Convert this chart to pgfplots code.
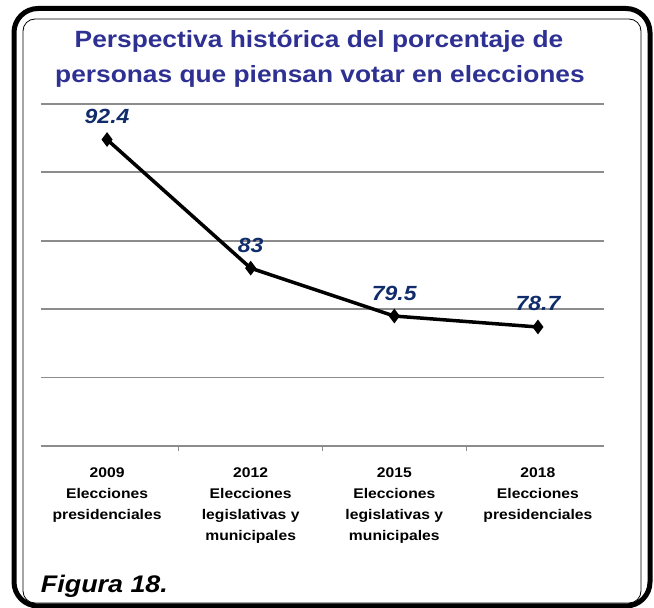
\documentclass[border=0pt]{standalone}
\usepackage{fontspec}
\setmainfont{Liberation Sans}
\usepackage{pgfplots}
\pgfplotsset{compat=1.18}
\definecolor{titleblue}{RGB}{46,49,146}
\definecolor{labelblue}{RGB}{16,44,106}
\definecolor{gridgray}{RGB}{140,140,140}
\begin{document}
\begin{tikzpicture}
\useasboundingbox (0pt,0pt) rectangle (654pt,608pt);
% frame
\draw[line width=5pt, rounded corners=24pt] (14pt,2pt) rectangle (650pt,599.5pt);
\draw[line width=0.8pt, rounded corners=12pt] (23pt,5pt) rectangle (641pt,589pt);
% title, slightly stretched like the reference
\node[anchor=base, xscale=1.12, text=titleblue, font=\bfseries\fontsize{23.5}{28}\selectfont] at (319pt,560pt)
  {Perspectiva histórica del porcentaje de};
\node[anchor=base, xscale=1.12, text=titleblue, font=\bfseries\fontsize{23.5}{28}\selectfont] at (320pt,525pt)
  {personas que piensan votar en elecciones};
\node[anchor=base west, xscale=1.12, font=\bfseries\itshape\fontsize{24}{28}\selectfont] at (37pt,15pt) {Figura 18.};
\begin{axis}[
  at={(41pt,162pt)}, anchor=south west,
  scale only axis, width=563pt, height=342pt,
  xmin=-0.46, xmax=3.46, ymin=70, ymax=95,
  ytick={70,75,...,95}, yticklabels={},
  ymajorgrids, grid style={gridgray, line width=1.8pt},
  axis x line*=bottom, axis y line*=left,
  y axis line style={draw=none}, major y tick style={draw=none},
  x axis line style={gridgray, line width=1.8pt, -},
  xtick={0,1,2,3},
  xticklabels={{2009\\Elecciones\\presidenciales},{2012\\Elecciones\\legislativas y\\municipales},{2015\\Elecciones\\legislativas y\\municipales},{2018\\Elecciones\\presidenciales}},
  major x tick style={draw=none},
  minor xtick={0.5,1.5,2.5}, minor tick length=5pt,
  minor x tick style={gridgray, line width=1.2pt},
  xtick align=outside,
  xticklabel style={align=center, anchor=north, yshift=-14pt, xscale=1.12,
    font=\bfseries\fontsize{14}{21}\selectfont},
  clip=false,
  /pgf/number format/assume math mode=true,
  nodes near coords,
  every node near coord/.append style={anchor=base, yshift=16pt, xscale=1.12, text=labelblue,
    font=\bfseries\itshape\fontsize{20.5}{24}\selectfont},
]
\addplot[black, line width=3.5pt, mark=diamond*, mark size=4.5pt, mark options={solid}]
  coordinates {(0,92.4) (1,83) (2,79.5) (3,78.7)};
\end{axis}
\end{tikzpicture}
\end{document}
